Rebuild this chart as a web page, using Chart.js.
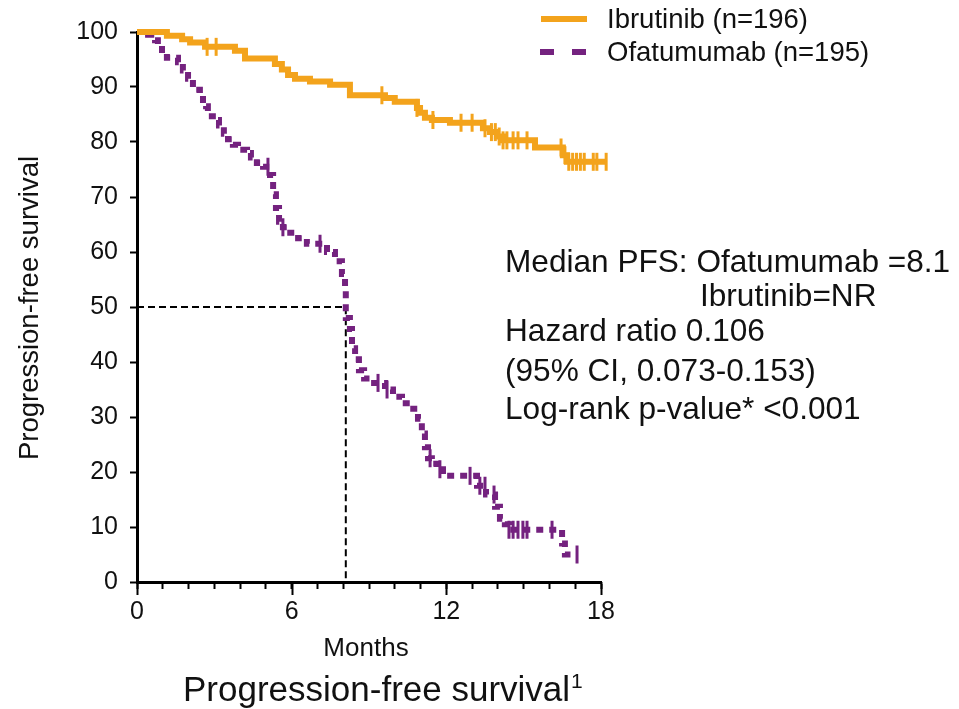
<!DOCTYPE html>
<html>
<head>
<meta charset="utf-8">
<title>Progression-free survival</title>
<script src="https://cdn.jsdelivr.net/npm/chart.js@4.4.1/dist/chart.umd.min.js"></script>
<style>
  html, body { margin: 0; padding: 0; background: #fff; }
  #pfsChart { display: block; }
</style>
</head>
<body>
<canvas id="pfsChart" width="959" height="709"></canvas>
<script>
// Kaplan-Meier steps: month of each drop and survival (%) after it
const ibrutinibMonths = [0, 1.16, 1.75, 2.06, 2.64, 3.8, 4.19, 5.35, 5.62, 5.86, 6.13, 6.71, 7.49, 8.26, 9.62, 10.0, 10.86, 10.98, 11.17, 11.44, 12.14, 13.42, 13.69, 13.96, 14.2, 15.44, 16.52, 16.68, 18.23];
const ibrutinibPfs = [100, 99.3, 98.7, 98.1, 97.3, 96.6, 95.2, 94.2, 93.2, 92.2, 91.5, 91.0, 90.4, 88.5, 88.0, 87.3, 86.2, 85.3, 84.4, 84.0, 83.5, 82.5, 81.8, 81.0, 80.3, 79.0, 77.6, 76.4, 76.4];
const ibrutinibCensored = [2.72, 3.07, 9.5, 10.86, 11.48, 12.57, 13.0, 13.5, 13.75, 13.9, 14.05, 14.2, 14.35, 14.59, 14.78, 15.13, 16.45, 16.6, 16.75, 16.9, 17.05, 17.2, 17.35, 17.7, 17.84, 18.2];

const ofatumumabMonths = [0, 0.43, 0.7, 0.81, 0.97, 1.16, 1.59, 1.78, 1.98, 2.17, 2.44, 2.56, 2.68, 2.75, 3.06, 3.18, 3.37, 3.53, 3.72, 3.92, 4.27, 4.42, 4.65, 4.89, 5.16, 5.28, 5.39, 5.51, 5.66, 5.82, 6.25, 6.59, 7.37, 7.68, 7.95, 8.07, 8.1, 8.26, 8.34, 8.46, 8.61, 8.81, 9.04, 9.62, 9.93, 10.28, 10.59, 10.9, 11.05, 11.17, 11.29, 11.44, 11.64, 11.87, 13.19, 13.54, 13.89, 14.08, 14.27, 14.43, 16.49, 16.6, 17.07];
const ofatumumabPfs = [100, 99.5, 98.5, 97.5, 96, 95.3, 94.5, 93, 91.5, 89.5, 88.5, 87, 86.5, 84.7, 84, 83, 81.5, 80.5, 79.5, 78.6, 78, 77.2, 76.2, 75.5, 74, 70.5, 68, 65.5, 64.5, 63.5, 62.5, 61.5, 60, 58.3, 56, 53, 48, 46, 42.5, 40.5, 38.5, 37, 36.2, 35, 33.7, 32.5, 31.5, 29.7, 27, 24.5, 22.5, 21.5, 20.5, 19.3, 17.5, 15.9, 13.7, 11.5, 10.5, 9.5, 7, 5, 5];
const ofatumumabCensored = [5.08, 5.66, 7.1, 9.35, 9.7, 11.37, 11.75, 12.92, 13.3, 13.5, 13.85, 14.43, 14.59, 14.78, 14.97, 15.13, 16.1, 17.07];

const medianOfatumumab = 8.1;
const xTickLabels = [0, 6, 12, 18];
const legendLabels = ['Ibrutinib (n=196)', 'Ofatumumab (n=195)'];
const statsLines = [
  'Median PFS: Ofatumumab =8.1',
  'Ibrutinib=NR',
  'Hazard ratio 0.106',
  '(95% CI, 0.073-0.153)',
  'Log-rank p-value* <0.001'
];

const ORANGE = '#F3A31C';
const PURPLE = '#74227F';
const FONT = '"Liberation Sans", Arial, sans-serif';

function toPoints(months, values) {
  return months.map((m, i) => ({ x: m, y: values[i] }));
}

// survival level of a step curve at month t (for placing censor ticks)
function levelAt(months, values, t) {
  let v = values[0];
  for (let i = 0; i < months.length; i++) {
    if (months[i] <= t) v = values[i];
  }
  return v;
}

function censorPoints(months, values, times) {
  return times.map(t => ({ x: t, y: levelAt(months, values, t) }));
}

const decorations = {
  id: 'decorations',
  afterDraw(chart) {
    const { ctx, scales: { x, y } } = chart;
    ctx.save();

    // longer ticks at the labelled months
    ctx.strokeStyle = '#000';
    ctx.lineWidth = 2;
    xTickLabels.forEach(m => {
      const px = Math.round(x.getPixelForValue(m)) + 0.5;
      ctx.beginPath();
      ctx.moveTo(px, y.bottom);
      ctx.lineTo(px, y.bottom + 13);
      ctx.stroke();
    });

    // legend
    ctx.lineWidth = 6;
    ctx.strokeStyle = ORANGE;
    ctx.beginPath();
    ctx.moveTo(541, 19);
    ctx.lineTo(587, 19);
    ctx.stroke();
    ctx.strokeStyle = PURPLE;
    ctx.setLineDash([14, 18]);
    ctx.beginPath();
    ctx.moveTo(540, 52);
    ctx.lineTo(587, 52);
    ctx.stroke();
    ctx.setLineDash([]);

    ctx.fillStyle = '#111';
    ctx.textBaseline = 'middle';
    ctx.textAlign = 'left';
    ctx.font = '27.5px ' + FONT;
    ctx.fillText(legendLabels[0], 607, 20);
    ctx.fillText(legendLabels[1], 607, 53);

    // statistics block
    ctx.font = '31.6px ' + FONT;
    const rows = [263, 297, 332, 372, 410];
    statsLines.forEach((line, i) => {
      ctx.fillText(line, i === 1 ? 700 : 505, rows[i]);
    });

    // axis titles
    ctx.textAlign = 'center';
    ctx.font = '26px ' + FONT;
    ctx.fillText('Months', 366, 649);
    ctx.font = '27.5px ' + FONT;
    ctx.save();
    ctx.translate(30, 308);
    ctx.rotate(-Math.PI / 2);
    ctx.fillText('Progression-free survival', 0, 0);
    ctx.restore();

    // caption under the chart
    ctx.textAlign = 'left';
    ctx.textBaseline = 'alphabetic';
    ctx.font = '35px ' + FONT;
    const caption = 'Progression-free survival';
    ctx.fillText(caption, 183, 701);
    const w = ctx.measureText(caption).width;
    ctx.font = '21px ' + FONT;
    ctx.fillText('1', 183 + w + 1, 688);

    ctx.restore();
  }
};

const chart = new Chart(document.getElementById('pfsChart'), {
  type: 'scatter',
  data: {
    datasets: [
      {
        label: legendLabels[0],
        data: toPoints(ibrutinibMonths, ibrutinibPfs),
        showLine: true,
        stepped: true,
        borderColor: ORANGE,
        borderWidth: 6,
        pointRadius: 0,
        clip: false
      },
      {
        label: 'Ibrutinib censored',
        data: censorPoints(ibrutinibMonths, ibrutinibPfs, ibrutinibCensored),
        pointStyle: 'line',
        rotation: 90,
        pointRadius: 9,
        pointBorderWidth: 3,
        pointBorderColor: ORANGE,
        clip: false
      },
      {
        label: legendLabels[1],
        data: toPoints(ofatumumabMonths, ofatumumabPfs),
        showLine: true,
        stepped: true,
        borderColor: PURPLE,
        borderWidth: 6,
        borderDash: [7, 6],
        pointRadius: 0
      },
      {
        label: 'Ofatumumab censored',
        data: censorPoints(ofatumumabMonths, ofatumumabPfs, ofatumumabCensored),
        pointStyle: 'line',
        rotation: 90,
        pointRadius: 9,
        pointBorderWidth: 3,
        pointBorderColor: PURPLE
      },
      {
        label: 'Median',
        data: [{ x: 0, y: 50 }, { x: medianOfatumumab, y: 50 }, { x: medianOfatumumab, y: 0 }],
        showLine: true,
        borderColor: '#000',
        borderWidth: 2,
        borderDash: [7, 4],
        pointRadius: 0
      }
    ]
  },
  options: {
    responsive: false,
    animation: false,
    devicePixelRatio: 1,
    layout: { padding: { left: 0, top: 32, right: 358, bottom: 0 } },
    plugins: {
      legend: { display: false },
      tooltip: { enabled: false }
    },
    scales: {
      x: {
        type: 'linear',
        min: 0,
        max: 18,
        afterFit: s => { s.height = 127; },
        border: { display: true, color: '#000', width: 3 },
        grid: {
          display: true,
          drawOnChartArea: false,
          drawTicks: true,
          tickLength: 7,
          tickWidth: 2,
          tickColor: '#000'
        },
        ticks: {
          stepSize: 1,
          autoSkip: false,
          maxRotation: 0,
          padding: 8,
          color: '#111',
          font: { family: FONT, size: 25 },
          callback: v => xTickLabels.includes(v) ? String(v) : ''
        }
      },
      y: {
        min: 0,
        max: 100,
        afterFit: s => { s.width = 137; },
        border: { display: true, color: '#000', width: 3 },
        grid: {
          display: true,
          drawOnChartArea: false,
          drawTicks: true,
          tickLength: 7,
          tickWidth: 2,
          tickColor: '#000'
        },
        ticks: {
          stepSize: 10,
          padding: 12,
          color: '#111',
          font: { family: FONT, size: 25 }
        }
      }
    }
  },
  plugins: [decorations]
});
</script>
</body>
</html>
